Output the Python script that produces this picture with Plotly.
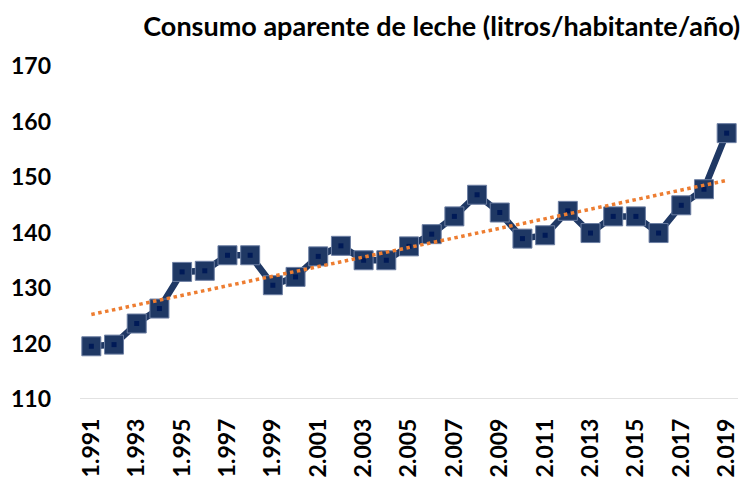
import numpy as np
import plotly.graph_objects as go

years = list(range(1991, 2020))
consumo = [119.5, 119.8, 123.6, 126.3, 132.9, 133.1, 135.9, 135.9, 130.5, 132.0,
           135.7, 137.6, 135.0, 135.0, 137.5, 139.7, 142.9, 146.8, 143.6, 138.9,
           139.5, 143.9, 139.9, 142.9, 142.9, 139.9, 144.9, 147.8, 157.9]
tick_years = years[::2]
tick_labels = [f"{y // 1000}.{y % 1000:03d}" for y in tick_years]
y_ticks = [110, 120, 130, 140, 150, 160, 170]

slope, intercept = np.polyfit(years, consumo, 1)
trend = [slope * y + intercept for y in years]

navy = "#1F3864"
font_fam = "Lato, 'Open Sans', sans-serif"

fig = go.Figure()
fig.add_trace(go.Scatter(
    x=years, y=consumo, mode="lines+markers",
    line=dict(color=navy, width=6.5),
    marker=dict(symbol="square", size=19, color=navy,
                line=dict(color="#6D7FA3", width=1)),
    hoverinfo="x+y", showlegend=False))
fig.add_trace(go.Scatter(
    x=years, y=consumo, mode="markers",
    marker=dict(symbol="square", size=5, color="#001A57"),
    hoverinfo="skip", showlegend=False))
fig.add_trace(go.Scatter(
    x=years, y=trend, mode="lines",
    line=dict(color="#ED7D31", width=3.5, dash="dot"),
    hoverinfo="skip", showlegend=False))

fig.update_layout(
    width=744, height=483,
    margin=dict(l=80, r=6, t=66, b=84),
    paper_bgcolor="white", plot_bgcolor="white",
    font=dict(family=font_fam, color="black"),
    title=dict(text="<b>Consumo aparente de leche (litros/habitante/año)</b>",
               font=dict(size=27, family=font_fam, color="black"),
               xref="container", x=0.995, xanchor="right",
               yref="container", y=0.945, yanchor="middle"),
)
fig.update_xaxes(
    range=[1990.5, 2019.5], tickmode="array", tickvals=tick_years, ticktext=tick_labels,
    tickangle=-90, tickfont=dict(size=23, family=font_fam, color="black", weight="bold"),
    showgrid=False, zeroline=False, showline=False, ticks="", ticklabelstandoff=14)
fig.update_yaxes(
    range=[110, 170], tickmode="array", tickvals=y_ticks,
    tickfont=dict(size=23, family=font_fam, color="black", weight="bold"),
    showgrid=False, zeroline=False, showline=False, ticks="", ticklabelstandoff=28)
fig.add_shape(type="line", xref="paper", yref="y", x0=0, x1=1, y0=110, y1=110,
              line=dict(color="#D9D9D9", width=1.5), layer="below")

fig.write_html("out.html", config={"displayModeBar": False},
               post_script="document.body.style.margin='0';")
